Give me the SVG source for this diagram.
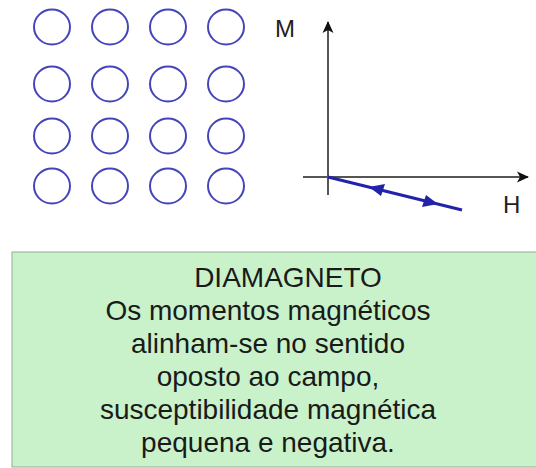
<svg xmlns="http://www.w3.org/2000/svg" width="536" height="468" viewBox="0 0 536 468">
<style>
.c{fill:none;stroke:#4545bb;stroke-width:2}
.ax{stroke:#555;stroke-width:2;fill:none}
.t{font-family:"Liberation Sans",Arial,sans-serif;font-size:28px;fill:#1a1a1a;text-anchor:middle}
.lbl{font-family:"Liberation Sans",Arial,sans-serif;font-size:24px;fill:#222}
</style>
<defs>
<marker id="ah" viewBox="0 0 12 12" refX="11" refY="6" markerWidth="12" markerHeight="12" orient="auto" markerUnits="userSpaceOnUse">
<path d="M0,0.5 L12,6 L0,11.5 L3,6 Z" fill="#111"/>
</marker>
</defs>
<rect width="536" height="468" fill="#fff"/>
<g id="moments">
<ellipse class="c" cx="52" cy="27" rx="18" ry="17.5"/>
<ellipse class="c" cx="110" cy="27" rx="18" ry="17.5"/>
<ellipse class="c" cx="168" cy="27" rx="18" ry="17.5"/>
<ellipse class="c" cx="226" cy="27" rx="18" ry="17.5"/>
<ellipse class="c" cx="52" cy="84" rx="18" ry="17.5"/>
<ellipse class="c" cx="110" cy="84" rx="18" ry="17.5"/>
<ellipse class="c" cx="168" cy="84" rx="18" ry="17.5"/>
<ellipse class="c" cx="226" cy="84" rx="18" ry="17.5"/>
<ellipse class="c" cx="52" cy="136" rx="18" ry="17.5"/>
<ellipse class="c" cx="110" cy="136" rx="18" ry="17.5"/>
<ellipse class="c" cx="168" cy="136" rx="18" ry="17.5"/>
<ellipse class="c" cx="226" cy="136" rx="18" ry="17.5"/>
<ellipse class="c" cx="52" cy="186" rx="18" ry="17.5"/>
<ellipse class="c" cx="110" cy="186" rx="18" ry="17.5"/>
<ellipse class="c" cx="168" cy="186" rx="18" ry="17.5"/>
<ellipse class="c" cx="226" cy="186" rx="18" ry="17.5"/>
</g>
<g id="graph">
<line class="ax" x1="328" y1="195" x2="328" y2="22" marker-end="url(#ah)"/>
<line class="ax" x1="303" y1="177" x2="528" y2="177" marker-end="url(#ah)"/>
<text class="lbl" x="275" y="37">M</text>
<text class="lbl" x="503" y="213">H</text>
<line x1="328" y1="177" x2="462" y2="210" stroke="#2222aa" stroke-width="3"/>
<path d="M369,187 L385,184 L381,196 Z" fill="#2222aa"/>
<path d="M438,204 L422,207 L426,195 Z" fill="#2222aa"/>
</g>
<g id="box">
<rect x="12" y="252" width="530" height="215" fill="#c9f2cb" stroke="#9aa89a" stroke-width="1"/>
<text class="t" x="288" y="287">DIAMAGNETO</text>
<text class="t" x="268" y="320">Os momentos magnéticos</text>
<text class="t" x="268" y="353">alinham-se no sentido</text>
<text class="t" x="268" y="386">oposto ao campo,</text>
<text class="t" x="268" y="419">susceptibilidade magnética</text>
<text class="t" x="268" y="452">pequena e negativa.</text>
</g>
</svg>
